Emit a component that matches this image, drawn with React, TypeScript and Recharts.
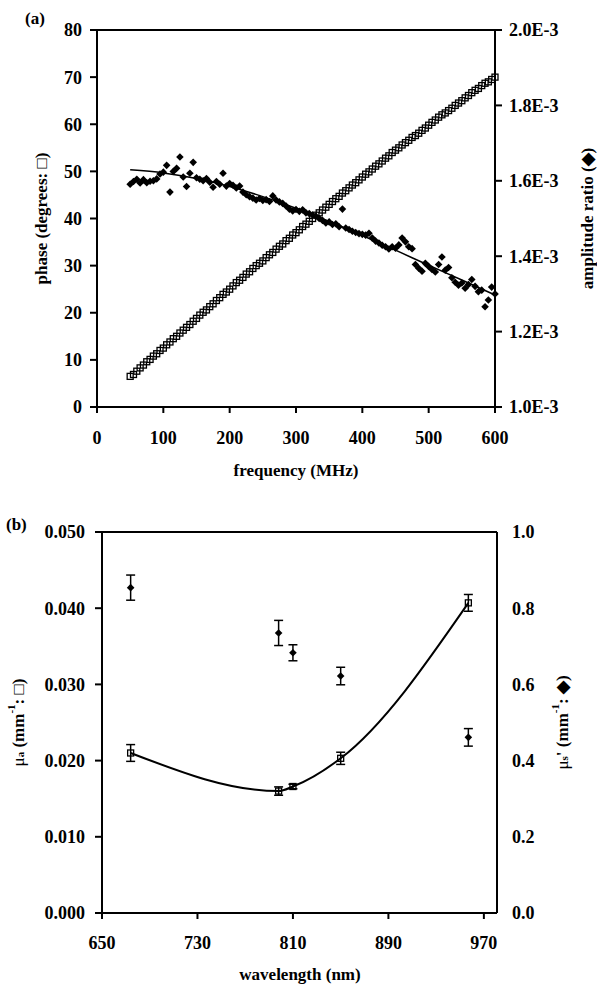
import {
    ComposedChart,
    Scatter,
    Line,
    XAxis,
    YAxis,
    ErrorBar,
    ReferenceLine,
    Label,
} from "recharts";

// panel (a): phase / amplitude vs modulation frequency
const FREQ = [
    50, 55, 60, 65, 70, 75, 80, 85, 90, 95,
    100, 105, 110, 115, 120, 125, 130, 135, 140, 145,
    150, 155, 160, 165, 170, 175, 180, 185, 190, 195,
    200, 205, 210, 215, 220, 225, 230, 235, 240, 245,
    250, 255, 260, 265, 270, 275, 280, 285, 290, 295,
    300, 305, 310, 315, 320, 325, 330, 335, 340, 345,
    350, 355, 360, 365, 370, 375, 380, 385, 390, 395,
    400, 405, 410, 415, 420, 425, 430, 435, 440, 445,
    450, 455, 460, 465, 470, 475, 480, 485, 490, 495,
    500, 505, 510, 515, 520, 525, 530, 535, 540, 545,
    550, 555, 560, 565, 570, 575, 580, 585, 590, 595,
    600,
];

const PHASE = [
    6.5, 6.9, 7.6, 8.3, 8.9, 9.6, 10.1, 10.8, 11.3, 12.0,
    12.5, 13.2, 13.8, 14.5, 15.0, 15.7, 16.3, 16.9, 17.5, 18.2,
    18.8, 19.5, 20.1, 20.6, 21.3, 21.9, 22.6, 23.2, 23.9, 24.4,
    25.0, 25.7, 26.4, 26.9, 27.5, 28.2, 28.7, 29.4, 30.0, 30.5,
    31.0, 31.7, 32.3, 32.8, 33.5, 34.1, 34.6, 35.3, 35.8, 36.5,
    37.0, 37.6, 38.3, 38.8, 39.4, 40.0, 40.7, 41.2, 41.8, 42.4,
    43.0, 43.6, 44.2, 44.7, 45.4, 45.9, 46.5, 47.1, 47.6, 48.2,
    48.8, 49.4, 49.9, 50.5, 51.1, 51.6, 52.2, 52.8, 53.3, 54.0,
    54.5, 55.0, 55.6, 56.1, 56.6, 57.2, 57.6, 58.1, 58.7, 59.2,
    59.8, 60.4, 60.9, 61.5, 62.0, 62.4, 62.9, 63.4, 64.0, 64.5,
    65.0, 65.6, 66.1, 66.7, 67.2, 67.6, 68.2, 68.7, 69.0, 69.5,
    70.0,
];

// amplitude ratio, in units of 1E-3
const AMP = [
    1.591, 1.598, 1.604, 1.594, 1.603, 1.595, 1.599, 1.600, 1.605, 1.618,
    1.623, 1.641, 1.570, 1.625, 1.633, 1.663, 1.610, 1.585, 1.620, 1.649,
    1.608, 1.604, 1.600, 1.606, 1.596, 1.583, 1.598, 1.591, 1.620, 1.586,
    1.593, 1.588, 1.581, 1.586, 1.570, 1.563, 1.558, 1.554, 1.549, 1.553,
    1.548, 1.550, 1.545, 1.560, 1.549, 1.544, 1.540, 1.533, 1.525, 1.520,
    1.524, 1.519, 1.523, 1.515, 1.513, 1.509, 1.506, 1.500, 1.495, 1.488,
    1.491, 1.484, 1.486, 1.478, 1.525, 1.475, 1.471, 1.466, 1.463, 1.460,
    1.458, 1.456, 1.461, 1.448, 1.440, 1.435, 1.429, 1.425, 1.419, 1.425,
    1.421, 1.430, 1.448, 1.438, 1.425, 1.420, 1.378, 1.368, 1.360, 1.381,
    1.373, 1.365, 1.358, 1.378, 1.398, 1.363, 1.370, 1.343, 1.331, 1.323,
    1.329, 1.315, 1.325, 1.338, 1.320, 1.306, 1.310, 1.266, 1.284, 1.318,
    1.300,
];

const FIT_FREQ = [50, 100, 150, 200, 250, 300, 350, 400, 450, 500, 550, 600];
const FIT_AMP = [1.629, 1.621, 1.606, 1.585, 1.558, 1.527, 1.492, 1.455, 1.416, 1.376, 1.337, 1.297];

const FREQ_TICKS = [0, 100, 200, 300, 400, 500, 600];
const PHASE_TICKS = [0, 10, 20, 30, 40, 50, 60, 70, 80];
const AMP_TICKS = [1.0, 1.2, 1.4, 1.6, 1.8, 2.0];

// panel (b): optical properties vs wavelength
const WAVELENGTH = [674, 798, 810, 850, 957];
const MUA = [0.0210, 0.0160, 0.0166, 0.0203, 0.0407];
const MUA_ERR = [0.0011, 0.00055, 0.0003, 0.0008, 0.0011];
const MUS = [0.854, 0.735, 0.683, 0.622, 0.461];
const MUS_ERR = [0.033, 0.033, 0.021, 0.023, 0.023];

const WL_TICKS = [650, 730, 810, 890, 970];
const MUA_TICKS = [0, 0.01, 0.02, 0.03, 0.04, 0.05];
const MUS_TICKS = [0, 0.2, 0.4, 0.6, 0.8, 1.0];

const FONT = "'Liberation Serif', 'Times New Roman', Times, serif";

const phaseData = FREQ.map((f, i) => ({ f, phase: PHASE[i] }));
const ampData = FREQ.map((f, i) => ({ f, amp: AMP[i] }));
const fitData = FIT_FREQ.map((f, i) => ({ f, amp: FIT_AMP[i] }));

const muaData = WAVELENGTH.map((w, i) => ({ w, mua: MUA[i], err: MUA_ERR[i] }));
const musData = WAVELENGTH.map((w, i) => ({ w, mus: MUS[i], err: MUS_ERR[i] }));

const tickStyle = {
    fill: "#000",
    fontSize: 18,
    fontWeight: "bold",
    fontFamily: FONT,
};

const axisLine = { stroke: "#000", strokeWidth: 2 };

const SquareDot = (props: any) => {
    const { cx, cy } = props;
    if (cx == null || cy == null) return null;
    return (
        <rect
            x={cx - 3}
            y={cy - 3}
            width={6}
            height={6}
            fill="none"
            stroke="#000"
            strokeWidth={1.3}
        />
    );
};

const DiamondDot = (props: any) => {
    const { cx, cy } = props;
    if (cx == null || cy == null) return null;
    const r = 3.8;
    return (
        <polygon
            points={`${cx},${cy - r} ${cx + r},${cy} ${cx},${cy + r} ${cx - r},${cy}`}
            fill="#000"
        />
    );
};

const titleProps = {
    fill: "#000",
    fontSize: 17,
    fontWeight: "bold",
    fontFamily: FONT,
};

const sideTitle = (cx: number, body: any) => (p: any) => {
    const vb = p.viewBox || {};
    const cy = vb.y + vb.height / 2;
    return (
        <text
            x={cx}
            y={cy}
            transform={`rotate(-90 ${cx} ${cy})`}
            textAnchor="middle"
            dominantBaseline="central"
            {...titleProps}
        >
            {body}
        </text>
    );
};

const bottomTitle = (cx: number, cy: number, body: string) => () => (
    <text
        x={cx}
        y={cy}
        textAnchor="middle"
        dominantBaseline="central"
        {...titleProps}
    >
        {body}
    </text>
);

const panelLabel = {
    position: "absolute" as const,
    fontFamily: FONT,
    fontWeight: "bold",
    fontSize: 17,
    lineHeight: "20px",
    color: "#000",
};

const App = () => {
    return (
        <div
            style={{
                position: "absolute",
                left: 0,
                top: 0,
                width: 597,
                height: 986,
                background: "#fff",
            }}
        >
            <div style={{ ...panelLabel, left: 25, top: 9 }}>(a)</div>
            <div style={{ ...panelLabel, left: 6, top: 515 }}>(b)</div>

            <div style={{ position: "absolute", left: 0, top: 0 }}>
                <ComposedChart
                    width={597}
                    height={490}
                    margin={{ top: 30, right: 0, bottom: 0, left: 0 }}
                >
                    <XAxis
                        dataKey="f"
                        type="number"
                        domain={[0, 600]}
                        ticks={FREQ_TICKS}
                        tick={tickStyle}
                        tickSize={6}
                        tickMargin={18}
                        height={83}
                        axisLine={axisLine}
                        tickLine={axisLine}
                    >
                        <Label content={bottomTitle(296, 470, "frequency (MHz)")} />
                    </XAxis>
                    <YAxis
                        yAxisId="left"
                        dataKey="phase"
                        type="number"
                        domain={[0, 80]}
                        ticks={PHASE_TICKS}
                        tick={tickStyle}
                        tickSize={7}
                        tickMargin={8}
                        width={97}
                        axisLine={axisLine}
                        tickLine={axisLine}
                    >
                        <Label content={sideTitle(41, "phase (degrees: \u25A1)")} />
                    </YAxis>
                    <YAxis
                        yAxisId="right"
                        orientation="right"
                        dataKey="amp"
                        type="number"
                        domain={[1.0, 2.0]}
                        ticks={AMP_TICKS}
                        tickFormatter={(v: number) => `${v.toFixed(1)}E-3`}
                        tick={tickStyle}
                        tickSize={7}
                        tickMargin={7}
                        width={102}
                        axisLine={axisLine}
                        tickLine={axisLine}
                    >
                        <Label content={sideTitle(587, "amplitude ratio (\u25C6)")} />
                    </YAxis>
                    <ReferenceLine
                        yAxisId="left"
                        y={80}
                        stroke="#000"
                        strokeWidth={2}
                    />
                    <Scatter
                        yAxisId="left"
                        data={phaseData}
                        shape={SquareDot}
                        isAnimationActive={false}
                    />
                    <Scatter
                        yAxisId="right"
                        data={ampData}
                        shape={DiamondDot}
                        isAnimationActive={false}
                    />
                    <Line
                        yAxisId="right"
                        data={fitData}
                        dataKey="amp"
                        type="monotone"
                        stroke="#000"
                        strokeWidth={1.5}
                        dot={false}
                        isAnimationActive={false}
                    />
                </ComposedChart>
            </div>

            <div style={{ position: "absolute", left: 0, top: 490 }}>
                <ComposedChart
                    width={597}
                    height={496}
                    margin={{ top: 42, right: 0, bottom: 0, left: 0 }}
                >
                    <XAxis
                        dataKey="w"
                        type="number"
                        domain={[650, 981]}
                        ticks={WL_TICKS}
                        tick={tickStyle}
                        tickSize={6}
                        tickMargin={17}
                        height={73}
                        axisLine={axisLine}
                        tickLine={axisLine}
                        allowDataOverflow
                    >
                        <Label content={bottomTitle(300, 484, "wavelength (nm)")} />
                    </XAxis>
                    <YAxis
                        yAxisId="left"
                        dataKey="mua"
                        type="number"
                        domain={[0, 0.05]}
                        ticks={MUA_TICKS}
                        tickFormatter={(v: number) => v.toFixed(3)}
                        tick={tickStyle}
                        tickSize={7}
                        tickMargin={10}
                        width={102}
                        axisLine={axisLine}
                        tickLine={axisLine}
                    >
                        <Label
                            content={sideTitle(
                                18,
                                <>
                                    <tspan fontWeight="normal">{"\u03BC"}</tspan>
                                    <tspan fontSize={11} dy={2}>a</tspan>
                                    <tspan dy={-2}> (mm</tspan>
                                    <tspan fontSize={11} dy={-7}>-1</tspan>
                                    <tspan dy={7}>{": \u25A1)"}</tspan>
                                </>
                            )}
                        />
                    </YAxis>
                    <YAxis
                        yAxisId="right"
                        orientation="right"
                        dataKey="mus"
                        type="number"
                        domain={[0, 1]}
                        ticks={MUS_TICKS}
                        tickFormatter={(v: number) => v.toFixed(1)}
                        tick={tickStyle}
                        tickSize={7}
                        tickMargin={8}
                        width={100}
                        axisLine={axisLine}
                        tickLine={false}
                    >
                        <Label
                            content={sideTitle(
                                562,
                                <>
                                    <tspan fontWeight="normal">{"\u03BC"}</tspan>
                                    <tspan fontSize={11} dy={2}>s</tspan>
                                    <tspan dy={-2}>{"' (mm"}</tspan>
                                    <tspan fontSize={11} dy={-7}>-1</tspan>
                                    <tspan dy={7}>{": \u25C6)"}</tspan>
                                </>
                            )}
                        />
                    </YAxis>
                    <ReferenceLine
                        yAxisId="left"
                        y={0.05}
                        stroke="#000"
                        strokeWidth={2}
                    />
                    <Line
                        yAxisId="left"
                        data={muaData}
                        dataKey="mua"
                        type="monotone"
                        stroke="#000"
                        strokeWidth={2}
                        dot={false}
                        isAnimationActive={false}
                    />
                    <Scatter
                        yAxisId="left"
                        data={muaData}
                        shape={SquareDot}
                        isAnimationActive={false}
                    >
                        <ErrorBar
                            dataKey="err"
                            direction="y"
                            width={4.5}
                            stroke="#000"
                            strokeWidth={1.5}
                        />
                    </Scatter>
                    <Scatter
                        yAxisId="right"
                        data={musData}
                        shape={DiamondDot}
                        isAnimationActive={false}
                    >
                        <ErrorBar
                            dataKey="err"
                            direction="y"
                            width={4.5}
                            stroke="#000"
                            strokeWidth={1.5}
                        />
                    </Scatter>
                </ComposedChart>
            </div>
        </div>
    );
};

export default App;
